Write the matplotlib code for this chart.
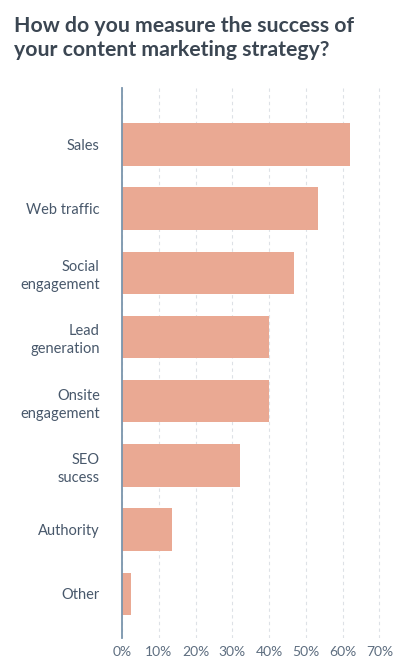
import numpy as np
import matplotlib.pyplot as plt

# Survey answers
categories = ['Sales', 'Web traffic', 'Social\nengagement', 'Lead\ngeneration',
              'Onsite\nengagement', 'SEO\nsucess', 'Authority', 'Other']
values = [62.0, 53.3, 46.7, 40.0, 40.0, 32.2, 13.5, 2.5]
ticks = [0, 10, 20, 30, 40, 50, 60, 70]
tick_labels = ['0%', '10%', '20%', '30%', '40%', '50%', '60%', '70%']

plt.rcParams['font.family'] = ['Lato', 'DejaVu Sans']

fig = plt.figure(figsize=(4.06, 6.72), dpi=100)
ax = fig.add_axes([0.3005, 0.0506, 0.652, 0.8185])

y = np.arange(len(categories))
ax.barh(y, values, height=0.66, color='#eaa993', zorder=3)

ax.set_xlim(0, 72)
ax.set_ylim(len(categories) - 0.31, -0.88)
ax.set_xticks(ticks)
ax.set_xticklabels(tick_labels)
ax.set_yticks(y)
ax.set_yticklabels(categories, linespacing=1.35)

ax.grid(axis='x', linestyle=(0, (3, 3)), color='#dde1e6', linewidth=0.8, zorder=0)
for s in ['top', 'right', 'bottom']:
    ax.spines[s].set_visible(False)
ax.spines['left'].set_color('#7a95ad')
ax.spines['left'].set_linewidth(1.3)
ax.spines['left'].set_zorder(4)

ax.tick_params(axis='y', length=0, pad=16, labelsize=10.5, labelcolor='#48586b')
ax.tick_params(axis='x', length=0, pad=6, labelsize=10, labelcolor='#5e6e80')

fig.text(0.034, 0.976, 'How do you measure the success of\nyour content marketing strategy?',
         fontsize=15.3, fontweight='bold', color='#3b4652', va='top', ha='left',
         linespacing=1.22)

fig.savefig('out.png', dpi=100)
